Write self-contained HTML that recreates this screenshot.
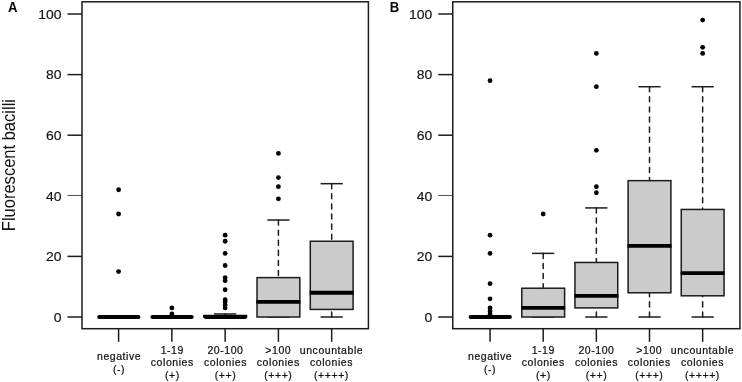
<!DOCTYPE html>
<html><head><meta charset="utf-8"><title>Fluorescent bacilli boxplots</title>
<style>
html,body{margin:0;padding:0;background:#fff;}
svg{display:block}
text{font-family:"Liberation Sans",sans-serif;fill:#111}
.tk{font-size:12.8px;stroke:#111;stroke-width:0.15px}
.xl{font-size:10.5px;letter-spacing:0.56px;stroke:#111;stroke-width:0.22px}
.pl{font-size:14.5px;font-weight:bold;fill:#000}
.yl{font-size:18.2px}
</style></head><body>
<svg width="742" height="382" viewBox="0 0 742 382">
<rect width="742" height="382" fill="#fff"/>
<g transform="translate(0,0)">
<rect x="82.0" y="1.8" width="286.4" height="326.9" fill="none" stroke="#1c1c1c" stroke-width="1.5"/>
<line x1="67.5" y1="317.00" x2="82.0" y2="317.00" stroke="#1c1c1c" stroke-width="1.5"/>
<text transform="translate(61.4,321.75) scale(1.09,1)" text-anchor="end" class="tk">0</text>
<line x1="67.5" y1="256.40" x2="82.0" y2="256.40" stroke="#1c1c1c" stroke-width="1.5"/>
<text transform="translate(61.4,261.15) scale(1.09,1)" text-anchor="end" class="tk">20</text>
<line x1="67.5" y1="195.45" x2="82.0" y2="195.45" stroke="#333" stroke-width="0.85"/>
<text transform="translate(61.4,200.55) scale(1.09,1)" text-anchor="end" class="tk">40</text>
<line x1="67.5" y1="135.20" x2="82.0" y2="135.20" stroke="#1c1c1c" stroke-width="1.5"/>
<text transform="translate(61.4,139.95) scale(1.09,1)" text-anchor="end" class="tk">60</text>
<line x1="67.5" y1="74.60" x2="82.0" y2="74.60" stroke="#1c1c1c" stroke-width="1.5"/>
<text transform="translate(61.4,79.35) scale(1.09,1)" text-anchor="end" class="tk">80</text>
<line x1="67.5" y1="14.00" x2="82.0" y2="14.00" stroke="#1c1c1c" stroke-width="1.5"/>
<text transform="translate(61.4,18.75) scale(1.09,1)" text-anchor="end" class="tk">100</text>
<line x1="118.60" y1="328.7" x2="118.60" y2="341.8" stroke="#1c1c1c" stroke-width="1.5"/>
<text x="119.10" y="360.0" text-anchor="middle" class="xl">negative</text>
<text x="119.10" y="373.3" text-anchor="middle" class="xl">(-)</text>
<line x1="171.87" y1="328.7" x2="171.87" y2="341.8" stroke="#1c1c1c" stroke-width="1.5"/>
<text x="172.30" y="353.8" text-anchor="middle" class="xl">1-19</text>
<text x="172.30" y="366.1" text-anchor="middle" class="xl">colonies</text>
<text x="172.30" y="379.1" text-anchor="middle" class="xl">(+)</text>
<line x1="225.14" y1="328.7" x2="225.14" y2="341.8" stroke="#1c1c1c" stroke-width="1.5"/>
<text x="225.50" y="353.8" text-anchor="middle" class="xl">20-100</text>
<text x="225.50" y="366.1" text-anchor="middle" class="xl">colonies</text>
<text x="225.50" y="379.1" text-anchor="middle" class="xl">(++)</text>
<line x1="278.41" y1="328.7" x2="278.41" y2="341.8" stroke="#1c1c1c" stroke-width="1.5"/>
<text x="278.30" y="353.8" text-anchor="middle" class="xl">&gt;100</text>
<text x="278.30" y="366.1" text-anchor="middle" class="xl">colonies</text>
<text x="278.30" y="379.1" text-anchor="middle" class="xl">(+++)</text>
<line x1="331.68" y1="328.7" x2="331.68" y2="341.8" stroke="#1c1c1c" stroke-width="1.5"/>
<text x="331.50" y="353.8" text-anchor="middle" class="xl">uncountable</text>
<text x="331.50" y="366.1" text-anchor="middle" class="xl">colonies</text>
<text x="331.50" y="379.1" text-anchor="middle" class="xl">(++++)</text>
<line x1="99.10" y1="317.00" x2="138.50" y2="317.00" stroke="#000" stroke-width="3.9" stroke-linecap="round"/>
<circle cx="118.60" cy="271.55" r="2.4" fill="#000"/>
<circle cx="118.60" cy="213.98" r="2.4" fill="#000"/>
<circle cx="118.60" cy="189.74" r="2.4" fill="#000"/>
<line x1="152.37" y1="317.00" x2="191.77" y2="317.00" stroke="#000" stroke-width="3.9" stroke-linecap="round"/>
<circle cx="171.87" cy="313.97" r="2.4" fill="#000"/>
<circle cx="171.87" cy="307.91" r="2.4" fill="#000"/>
<line x1="225.14" y1="313.97" x2="225.14" y2="315.49" stroke="#1c1c1c" stroke-width="1.5" stroke-dasharray="5.05 5.05" stroke-linecap="round"/>
<line x1="214.04" y1="313.97" x2="236.24" y2="313.97" stroke="#1c1c1c" stroke-width="1.5"/>
<line x1="214.04" y1="317.00" x2="236.24" y2="317.00" stroke="#1c1c1c" stroke-width="1.5"/>
<rect x="203.74" y="315.49" width="42.80" height="1.51" fill="#cbcbcb" stroke="#1c1c1c" stroke-width="1.5"/>
<line x1="205.64" y1="317.00" x2="245.04" y2="317.00" stroke="#000" stroke-width="3.9" stroke-linecap="round"/>
<circle cx="225.14" cy="307.91" r="2.4" fill="#000"/>
<circle cx="225.14" cy="304.88" r="2.4" fill="#000"/>
<circle cx="225.14" cy="301.85" r="2.4" fill="#000"/>
<circle cx="225.14" cy="299.73" r="2.4" fill="#000"/>
<circle cx="225.14" cy="289.73" r="2.4" fill="#000"/>
<circle cx="225.14" cy="280.64" r="2.4" fill="#000"/>
<circle cx="225.14" cy="277.61" r="2.4" fill="#000"/>
<circle cx="225.14" cy="265.49" r="2.4" fill="#000"/>
<circle cx="225.14" cy="253.37" r="2.4" fill="#000"/>
<circle cx="225.14" cy="241.25" r="2.4" fill="#000"/>
<circle cx="225.14" cy="235.19" r="2.4" fill="#000"/>
<line x1="278.41" y1="220.04" x2="278.41" y2="277.61" stroke="#1c1c1c" stroke-width="1.5" stroke-dasharray="5.05 5.05" stroke-linecap="round"/>
<line x1="267.31" y1="220.04" x2="289.51" y2="220.04" stroke="#1c1c1c" stroke-width="1.5"/>
<line x1="267.31" y1="317.00" x2="289.51" y2="317.00" stroke="#1c1c1c" stroke-width="1.5"/>
<rect x="257.01" y="277.61" width="42.80" height="39.39" fill="#cbcbcb" stroke="#1c1c1c" stroke-width="1.5"/>
<line x1="256.41" y1="301.85" x2="300.41" y2="301.85" stroke="#000" stroke-width="3.8"/>
<circle cx="278.41" cy="198.83" r="2.4" fill="#000"/>
<circle cx="278.41" cy="186.71" r="2.4" fill="#000"/>
<circle cx="278.41" cy="177.62" r="2.4" fill="#000"/>
<circle cx="278.41" cy="153.38" r="2.4" fill="#000"/>
<line x1="331.68" y1="183.68" x2="331.68" y2="241.25" stroke="#1c1c1c" stroke-width="1.5" stroke-dasharray="5.05 5.05" stroke-linecap="round"/>
<line x1="320.58" y1="183.68" x2="342.78" y2="183.68" stroke="#1c1c1c" stroke-width="1.5"/>
<line x1="331.68" y1="317.00" x2="331.68" y2="309.43" stroke="#1c1c1c" stroke-width="1.5" stroke-dasharray="5.05 5.05" stroke-linecap="round"/>
<line x1="320.58" y1="317.00" x2="342.78" y2="317.00" stroke="#1c1c1c" stroke-width="1.5"/>
<rect x="310.28" y="241.25" width="42.80" height="68.18" fill="#cbcbcb" stroke="#1c1c1c" stroke-width="1.5"/>
<line x1="309.68" y1="292.76" x2="353.68" y2="292.76" stroke="#000" stroke-width="3.8"/>
<text transform="translate(7.9,11.75) scale(0.905,1)" class="pl">A</text>
<text transform="translate(14.9,165.1) rotate(-90) scale(0.908,1)" text-anchor="middle" class="yl">Fluorescent bacilli</text>
</g>
<g transform="translate(371,0)">
<rect x="81.75" y="1.8" width="287.2" height="326.9" fill="none" stroke="#1c1c1c" stroke-width="1.5"/>
<line x1="67.25" y1="317.00" x2="81.75" y2="317.00" stroke="#1c1c1c" stroke-width="1.5"/>
<text transform="translate(61.15,321.75) scale(1.09,1)" text-anchor="end" class="tk">0</text>
<line x1="67.25" y1="256.40" x2="81.75" y2="256.40" stroke="#1c1c1c" stroke-width="1.5"/>
<text transform="translate(61.15,261.15) scale(1.09,1)" text-anchor="end" class="tk">20</text>
<line x1="67.25" y1="195.45" x2="81.75" y2="195.45" stroke="#333" stroke-width="0.85"/>
<text transform="translate(61.15,200.55) scale(1.09,1)" text-anchor="end" class="tk">40</text>
<line x1="67.25" y1="135.20" x2="81.75" y2="135.20" stroke="#1c1c1c" stroke-width="1.5"/>
<text transform="translate(61.15,139.95) scale(1.09,1)" text-anchor="end" class="tk">60</text>
<line x1="67.25" y1="74.60" x2="81.75" y2="74.60" stroke="#1c1c1c" stroke-width="1.5"/>
<text transform="translate(61.15,79.35) scale(1.09,1)" text-anchor="end" class="tk">80</text>
<line x1="67.25" y1="14.00" x2="81.75" y2="14.00" stroke="#1c1c1c" stroke-width="1.5"/>
<text transform="translate(61.15,18.75) scale(1.09,1)" text-anchor="end" class="tk">100</text>
<line x1="119.05" y1="328.7" x2="119.05" y2="341.8" stroke="#1c1c1c" stroke-width="1.5"/>
<text x="119.10" y="360.0" text-anchor="middle" class="xl">negative</text>
<text x="119.10" y="373.3" text-anchor="middle" class="xl">(-)</text>
<line x1="172.20" y1="328.7" x2="172.20" y2="341.8" stroke="#1c1c1c" stroke-width="1.5"/>
<text x="172.30" y="353.8" text-anchor="middle" class="xl">1-19</text>
<text x="172.30" y="366.1" text-anchor="middle" class="xl">colonies</text>
<text x="172.30" y="379.1" text-anchor="middle" class="xl">(+)</text>
<line x1="225.35" y1="328.7" x2="225.35" y2="341.8" stroke="#1c1c1c" stroke-width="1.5"/>
<text x="225.50" y="353.8" text-anchor="middle" class="xl">20-100</text>
<text x="225.50" y="366.1" text-anchor="middle" class="xl">colonies</text>
<text x="225.50" y="379.1" text-anchor="middle" class="xl">(++)</text>
<line x1="278.50" y1="328.7" x2="278.50" y2="341.8" stroke="#1c1c1c" stroke-width="1.5"/>
<text x="278.30" y="353.8" text-anchor="middle" class="xl">&gt;100</text>
<text x="278.30" y="366.1" text-anchor="middle" class="xl">colonies</text>
<text x="278.30" y="379.1" text-anchor="middle" class="xl">(+++)</text>
<line x1="331.65" y1="328.7" x2="331.65" y2="341.8" stroke="#1c1c1c" stroke-width="1.5"/>
<text x="331.50" y="353.8" text-anchor="middle" class="xl">uncountable</text>
<text x="331.50" y="366.1" text-anchor="middle" class="xl">colonies</text>
<text x="331.50" y="379.1" text-anchor="middle" class="xl">(++++)</text>
<line x1="99.55" y1="317.00" x2="138.95" y2="317.00" stroke="#000" stroke-width="3.9" stroke-linecap="round"/>
<circle cx="119.05" cy="313.97" r="2.4" fill="#000"/>
<circle cx="119.05" cy="310.94" r="2.4" fill="#000"/>
<circle cx="119.05" cy="307.91" r="2.4" fill="#000"/>
<circle cx="119.05" cy="298.82" r="2.4" fill="#000"/>
<circle cx="119.05" cy="283.67" r="2.4" fill="#000"/>
<circle cx="119.05" cy="253.37" r="2.4" fill="#000"/>
<circle cx="119.05" cy="235.19" r="2.4" fill="#000"/>
<circle cx="119.05" cy="80.66" r="2.4" fill="#000"/>
<line x1="172.20" y1="253.37" x2="172.20" y2="288.22" stroke="#1c1c1c" stroke-width="1.5" stroke-dasharray="5.05 5.05" stroke-linecap="round"/>
<line x1="161.10" y1="253.37" x2="183.30" y2="253.37" stroke="#1c1c1c" stroke-width="1.5"/>
<line x1="161.10" y1="317.00" x2="183.30" y2="317.00" stroke="#1c1c1c" stroke-width="1.5"/>
<rect x="150.80" y="288.22" width="42.80" height="28.78" fill="#cbcbcb" stroke="#1c1c1c" stroke-width="1.5"/>
<line x1="150.20" y1="307.91" x2="194.20" y2="307.91" stroke="#000" stroke-width="3.8"/>
<circle cx="172.20" cy="213.98" r="2.4" fill="#000"/>
<line x1="225.35" y1="207.92" x2="225.35" y2="262.46" stroke="#1c1c1c" stroke-width="1.5" stroke-dasharray="5.05 5.05" stroke-linecap="round"/>
<line x1="214.25" y1="207.92" x2="236.45" y2="207.92" stroke="#1c1c1c" stroke-width="1.5"/>
<line x1="225.35" y1="317.00" x2="225.35" y2="307.91" stroke="#1c1c1c" stroke-width="1.5" stroke-dasharray="5.05 5.05" stroke-linecap="round"/>
<line x1="214.25" y1="317.00" x2="236.45" y2="317.00" stroke="#1c1c1c" stroke-width="1.5"/>
<rect x="203.95" y="262.46" width="42.80" height="45.45" fill="#cbcbcb" stroke="#1c1c1c" stroke-width="1.5"/>
<line x1="203.35" y1="295.79" x2="247.35" y2="295.79" stroke="#000" stroke-width="3.8"/>
<circle cx="225.35" cy="192.77" r="2.4" fill="#000"/>
<circle cx="225.35" cy="186.71" r="2.4" fill="#000"/>
<circle cx="225.35" cy="150.35" r="2.4" fill="#000"/>
<circle cx="225.35" cy="86.72" r="2.4" fill="#000"/>
<circle cx="225.35" cy="53.39" r="2.4" fill="#000"/>
<line x1="278.50" y1="86.72" x2="278.50" y2="180.65" stroke="#1c1c1c" stroke-width="1.5" stroke-dasharray="5.05 5.05" stroke-linecap="round"/>
<line x1="267.40" y1="86.72" x2="289.60" y2="86.72" stroke="#1c1c1c" stroke-width="1.5"/>
<line x1="278.50" y1="317.00" x2="278.50" y2="292.76" stroke="#1c1c1c" stroke-width="1.5" stroke-dasharray="5.05 5.05" stroke-linecap="round"/>
<line x1="267.40" y1="317.00" x2="289.60" y2="317.00" stroke="#1c1c1c" stroke-width="1.5"/>
<rect x="257.10" y="180.65" width="42.80" height="112.11" fill="#cbcbcb" stroke="#1c1c1c" stroke-width="1.5"/>
<line x1="256.50" y1="245.80" x2="300.50" y2="245.80" stroke="#000" stroke-width="3.8"/>
<line x1="331.65" y1="86.72" x2="331.65" y2="209.44" stroke="#1c1c1c" stroke-width="1.5" stroke-dasharray="5.05 5.05" stroke-linecap="round"/>
<line x1="320.55" y1="86.72" x2="342.75" y2="86.72" stroke="#1c1c1c" stroke-width="1.5"/>
<line x1="331.65" y1="317.00" x2="331.65" y2="295.79" stroke="#1c1c1c" stroke-width="1.5" stroke-dasharray="5.05 5.05" stroke-linecap="round"/>
<line x1="320.55" y1="317.00" x2="342.75" y2="317.00" stroke="#1c1c1c" stroke-width="1.5"/>
<rect x="310.25" y="209.44" width="42.80" height="86.36" fill="#cbcbcb" stroke="#1c1c1c" stroke-width="1.5"/>
<line x1="309.65" y1="273.06" x2="353.65" y2="273.06" stroke="#000" stroke-width="3.8"/>
<circle cx="331.65" cy="53.39" r="2.4" fill="#000"/>
<circle cx="331.65" cy="47.33" r="2.4" fill="#000"/>
<circle cx="331.65" cy="20.06" r="2.4" fill="#000"/>
<text transform="translate(18.7,11.75) scale(0.905,1)" class="pl">B</text>
</g>
</svg>
</body></html>
